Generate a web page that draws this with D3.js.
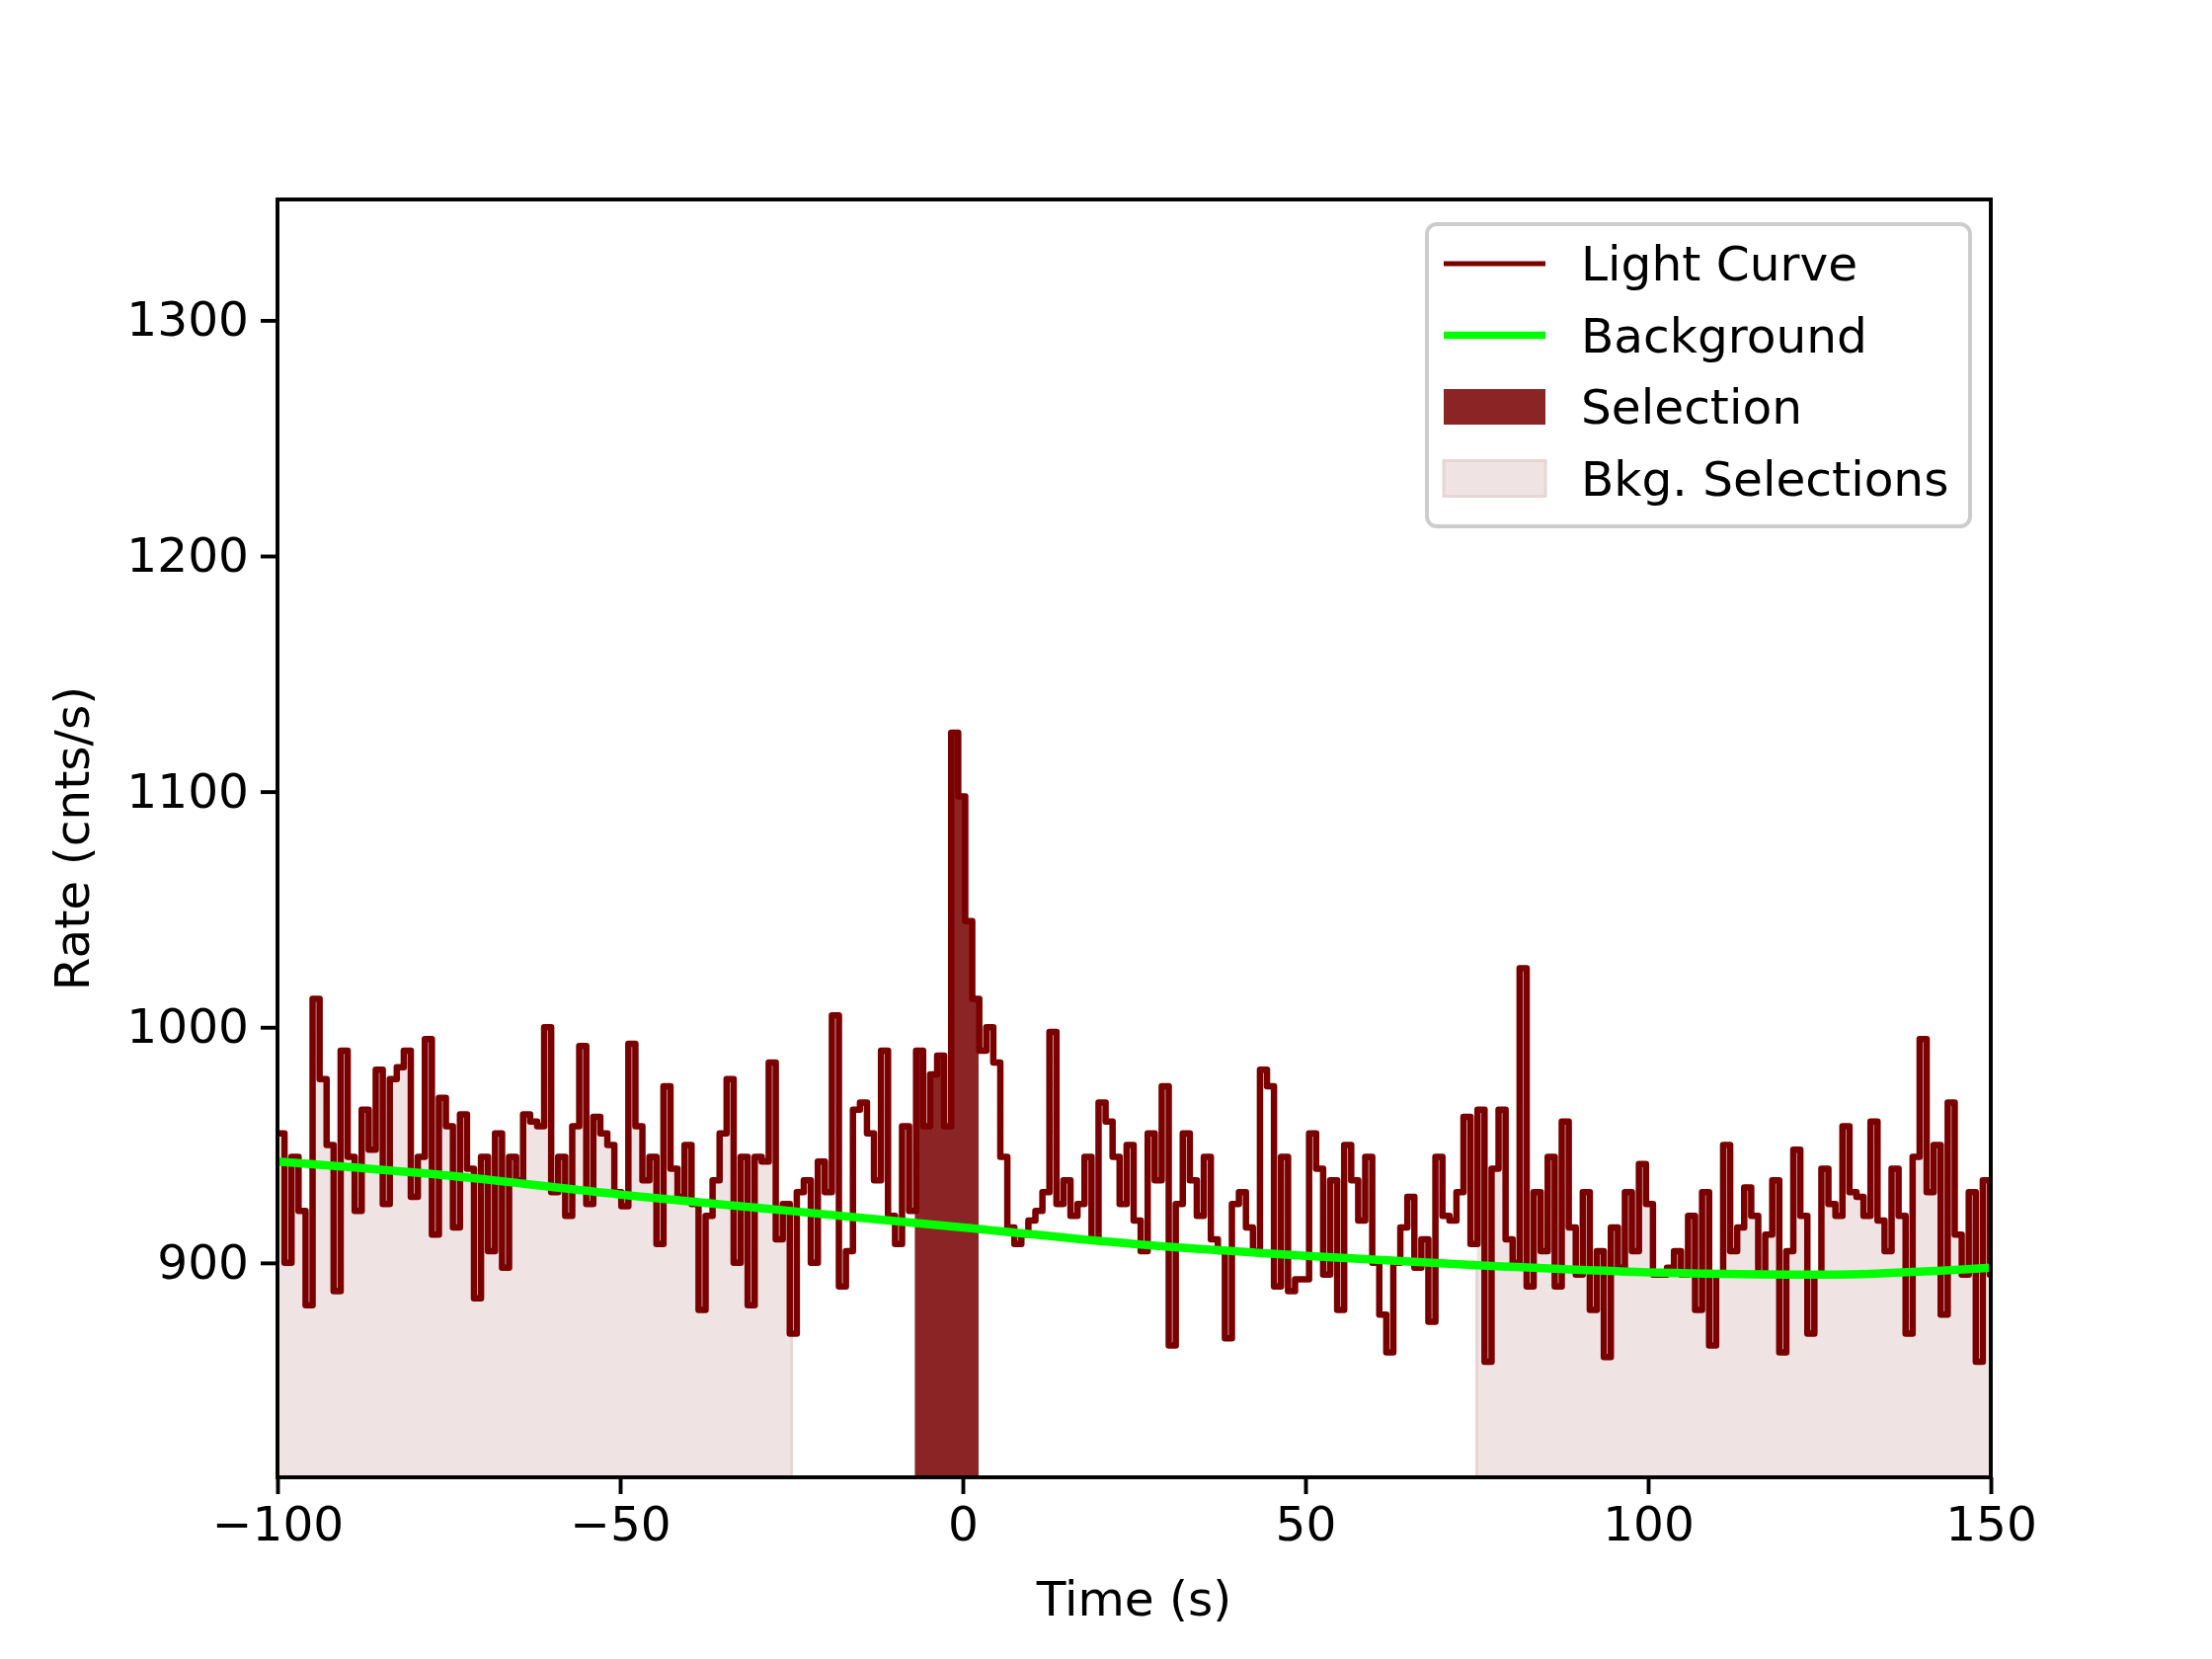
<!DOCTYPE html>
<html><head><meta charset="utf-8">
<script src="https://cdn.jsdelivr.net/npm/d3@7"></script>
<style>body{margin:0;background:#fff}svg{display:block;font-family:"DejaVu Sans",sans-serif}</style>
</head><body><svg id="c" width="2240" height="1680"></svg>
<script>
const tStart = -100, binWidth = 1.024;
const rates = [
955,900,945,922,882,1012,978,950,888,990,945,922,965,948,982,925,978,983,990,928,945,995,912,970,958,
915,963,940,885,945,905,955,898,945,935,963,960,958,1000,930,945,920,958,992,925,962,955,950,930,924,
993,958,935,945,908,975,940,928,950,925,880,920,935,955,978,900,945,882,945,943,985,910,925,870,930,
935,900,943,930,1005,890,905,965,968,955,935,990,920,908,958,922,
990,958,980,988,958,1125,1098,1045,1012,990,
1000,985,945,915,908,912,918,922,930,998,925,935,920,925,945,910,968,960,
945,925,950,918,905,955,935,975,865,925,955,935,920,945,910,905,868,925,930,915,905,982,975,890,945,
888,893,893,955,940,895,935,880,950,935,918,945,900,878,862,900,915,928,898,910,875,945,920,918,930,962,908,965,858,
940,965,910,900,1025,890,930,905,945,890,960,915,895,930,880,905,860,915,898,930,905,942,925,895,
895,898,905,895,920,880,930,865,895,950,905,915,932,920,895,912,935,862,905,948,920,870,895,940,925,
920,958,930,928,920,960,918,905,940,920,870,945,995,930,950,878,968,912,895,930,858,935,895,965
];
const bkgTimes = [-100,-75,-50,-25,0,25,50,75,100,125,150];
const bkgRates = [943,937,929,922,915,908,903,899,896,895,898];
const selection = [-7, 2.3];
const bkgSelections = [[-100,-25],[75,150]];
const xTicks = [-100,-50,0,50,100,150];
const yTicks = [900,1000,1100,1200,1300];

const L=281,R=2016,T=202,B=1496;
const svg=d3.select("#c");
const x=d3.scaleLinear().domain([-100,150]).range([L,R]);
const y=d3.scaleLinear().domain([809,1351.3]).range([B,T]);
const pts=rates.map((v,i)=>[tStart+i*binWidth,v]);
pts.push([tStart+rates.length*binWidth,rates[rates.length-1]]);
const defs=svg.append("defs");
defs.append("clipPath").attr("id","plot").append("rect").attr("x",L).attr("y",T).attr("width",R-L).attr("height",B-T);
const area=d3.area().curve(d3.curveStepAfter).x(d=>x(d[0])).y0(B).y1(d=>y(d[1]));
const g=svg.append("g").attr("clip-path","url(#plot)");
bkgSelections.forEach((s,i)=>{
  defs.append("clipPath").attr("id","bk"+i).append("rect").attr("x",x(s[0])).attr("y",T).attr("width",x(s[1])-x(s[0])).attr("height",B-T);
  g.append("path").datum(pts).attr("d",area).attr("fill","#f0e3e3").attr("clip-path","url(#bk"+i+")");
  g.append("line").attr("x1",x(s[0])).attr("x2",x(s[0])).attr("y1",B).attr("y2",y(900)).attr("stroke","#e8d6d6").attr("stroke-width",3);
  g.append("line").attr("x1",x(s[1])).attr("x2",x(s[1])).attr("y1",B).attr("y2",y(900)).attr("stroke","#e8d6d6").attr("stroke-width",3);
});
defs.append("clipPath").attr("id","sel").append("rect").attr("x",x(selection[0])).attr("y",T).attr("width",x(selection[1])-x(selection[0])).attr("height",B-T);
g.append("path").datum(pts).attr("d",area).attr("fill","#8b2525").attr("clip-path","url(#sel)");
g.append("path").datum(pts).attr("d",d3.line().curve(d3.curveStepAfter).x(d=>x(d[0])).y(d=>y(d[1])))
 .attr("fill","none").attr("stroke","#7a0000").attr("stroke-width",6.5).attr("stroke-linejoin","round").attr("stroke-linecap","round");
g.append("path").datum(bkgTimes.map((t,i)=>[t,bkgRates[i]])).attr("d",d3.line().curve(d3.curveMonotoneX).x(d=>x(d[0])).y(d=>y(d[1])))
 .attr("fill","none").attr("stroke","#00ff00").attr("stroke-width",8.5);
svg.append("rect").attr("x",L).attr("y",T).attr("width",R-L).attr("height",B-T).attr("fill","none").attr("stroke","#000").attr("stroke-width",3.9);
const xa=svg.append("g").attr("transform",`translate(0,${B})`).call(d3.axisBottom(x).tickValues(xTicks).tickSize(17).tickPadding(12).tickFormat(d=>d<0?"\u2212"+(-d):d));
const ya=svg.append("g").attr("transform",`translate(${L},0)`).call(d3.axisLeft(y).tickValues(yTicks).tickSize(17).tickPadding(12).tickFormat(d=>String(d)));
[xa,ya].forEach(a=>{a.select(".domain").remove();a.selectAll("line").attr("stroke-width",3.9);a.selectAll("text").attr("font-size",48.6).attr("font-family","DejaVu Sans").attr("fill","#000");});
svg.append("text").attr("x",(L+R)/2).attr("y",1636).attr("text-anchor","middle").attr("font-size",48.6).text("Time (s)");
svg.append("text").attr("transform",`translate(90,${(T+B)/2}) rotate(-90)`).attr("text-anchor","middle").attr("font-size",48.6).text("Rate (cnts/s)");
// legend
const lg=svg.append("g");
lg.append("rect").attr("x",1445).attr("y",227).attr("width",550).attr("height",306).attr("rx",10).attr("fill","#fff").attr("fill-opacity",0.8).attr("stroke","#cccccc").attr("stroke-width",3.9);
const items=[["Light Curve","line","#7a0000",4.9],["Background","line","#00ff00",7.3],["Selection","rect","#8b2525"],["Bkg. Selections","rect","#f0e3e3"]];
items.forEach((it,i)=>{const cy=267+i*72.5;
 if(it[1]=="line") lg.append("line").attr("x1",1462).attr("x2",1565).attr("y1",cy).attr("y2",cy).attr("stroke",it[2]).attr("stroke-width",it[3]);
 else lg.append("rect").attr("x",1462).attr("y",cy-18).attr("width",103).attr("height",36).attr("fill",it[2]).attr("stroke",i==3?"#e8d6d6":"none").attr("stroke-width",3);
 lg.append("text").attr("x",1601).attr("y",cy+17).attr("font-size",48.6).text(it[0]);
});
</script></body></html>
